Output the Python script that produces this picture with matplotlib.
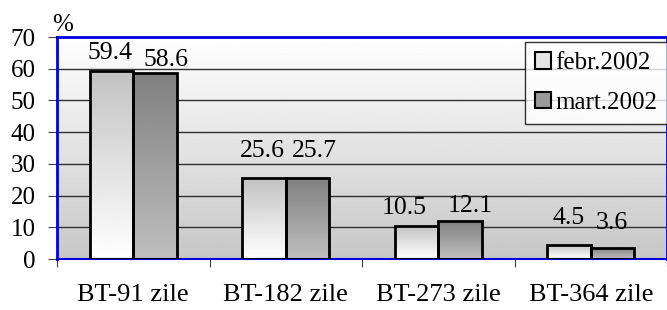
import numpy as np
import matplotlib.pyplot as plt
from matplotlib.patches import Patch

categories = ["BT-91 zile", "BT-182 zile", "BT-273 zile", "BT-364 zile"]
febr = [59.4, 25.6, 10.5, 4.5]
mart = [58.6, 25.7, 12.1, 3.6]
series_names = ["febr.2002", "mart.2002"]

# hand-placed label nudges (pixels): x shift from bar centre, baseline gap above bar
label_dx = [[-2, -1.5, -12.5, 0], [10.5, 7, 10.5, -1]]
label_gap = [[12, 21, 12, 21], [7, 21, 9, 19]]

plt.rcParams['font.family'] = ['Liberation Serif', 'DejaVu Serif']

fig = plt.figure(figsize=(6.67, 3.10), dpi=100)
ax = fig.add_axes([0.0855, 0.1645, 0.9145, 0.716])

x = np.arange(len(categories))
w = 0.285
ax.set_xlim(-0.5, len(categories) - 0.5)
ax.set_ylim(0, 70)

# background gradient: white top -> light gray bottom
bg = np.linspace(0.78, 1.0, 256).reshape(-1, 1)
ax.imshow(bg, cmap='gray', vmin=0, vmax=1, origin='lower', aspect='auto',
          extent=(-0.5, len(categories) - 0.5, 0, 70), zorder=0)

ax.set_yticks(range(0, 71, 10))
ax.yaxis.grid(True, color='#303030', linewidth=1)
for gl in ax.get_ygridlines():
    gl.set_zorder(1)


def gradient_bars(xs, vals, top, bottom):
    bars = ax.bar(xs, vals, w, facecolor='none', edgecolor='black',
                  linewidth=2, zorder=3)
    for b in bars:
        x0, y0 = b.get_x(), b.get_y()
        g = np.linspace(bottom, top, 128).reshape(-1, 1)
        im = ax.imshow(g, cmap='gray', vmin=0, vmax=1, origin='lower',
                       aspect='auto', zorder=2,
                       extent=(x0, x0 + b.get_width(), y0, y0 + b.get_height()))
        im.set_clip_path(b)
    return bars


b1 = gradient_bars(x - w / 2, febr, 0.76, 1.0)
b2 = gradient_bars(x + w / 2, mart, 0.50, 0.75)
ax.set_xlim(-0.5, len(categories) - 0.5)
ax.set_ylim(0, 70)

for k, (bars, vals) in enumerate(((b1, febr), (b2, mart))):
    for i, (b, v) in enumerate(zip(bars, vals)):
        ax.annotate(f"{v}", (b.get_x() + b.get_width() / 2, v),
                    xytext=(label_dx[k][i] * 0.72, label_gap[k][i] * 0.72),
                    textcoords='offset points',
                    ha='center', va='baseline', fontsize=18.5, zorder=5)

for s in ax.spines.values():
    s.set_color('#0000dd')
    s.set_linewidth(2)
ax.spines['bottom'].set_linewidth(1.5)

ax.set_xticks(np.arange(-0.5, len(categories), 1.0))
ax.set_xticklabels([])
ax.set_xticks(x, minor=True)
ax.set_xticklabels(categories, minor=True, fontsize=19)
ax.tick_params(axis='x', which='major', length=6, direction='out', color='#404040')
ax.tick_params(axis='x', which='minor', length=0, pad=18)
ax.tick_params(axis='y', length=6.5, direction='out', labelsize=18, pad=9, color='#404040')

fig.text(0.078, 0.9, "%", fontsize=18, ha='left', va='baseline')

handles = [Patch(facecolor='#e4e4e4', edgecolor='black', linewidth=1.5),
           Patch(facecolor='#9a9a9a', edgecolor='black', linewidth=1.5)]
leg = fig.legend(handles, series_names, loc='upper right',
                 bbox_to_anchor=(1.0, 0.8645), fontsize=18, frameon=True,
                 fancybox=False, borderpad=0.4, handlelength=0.65,
                 handleheight=0.65, handletextpad=0.15, labelspacing=0.7,
                 borderaxespad=0)
leg.get_frame().set_edgecolor('black')
leg.get_frame().set_linewidth(1)

fig.savefig("out.png", dpi=100)
